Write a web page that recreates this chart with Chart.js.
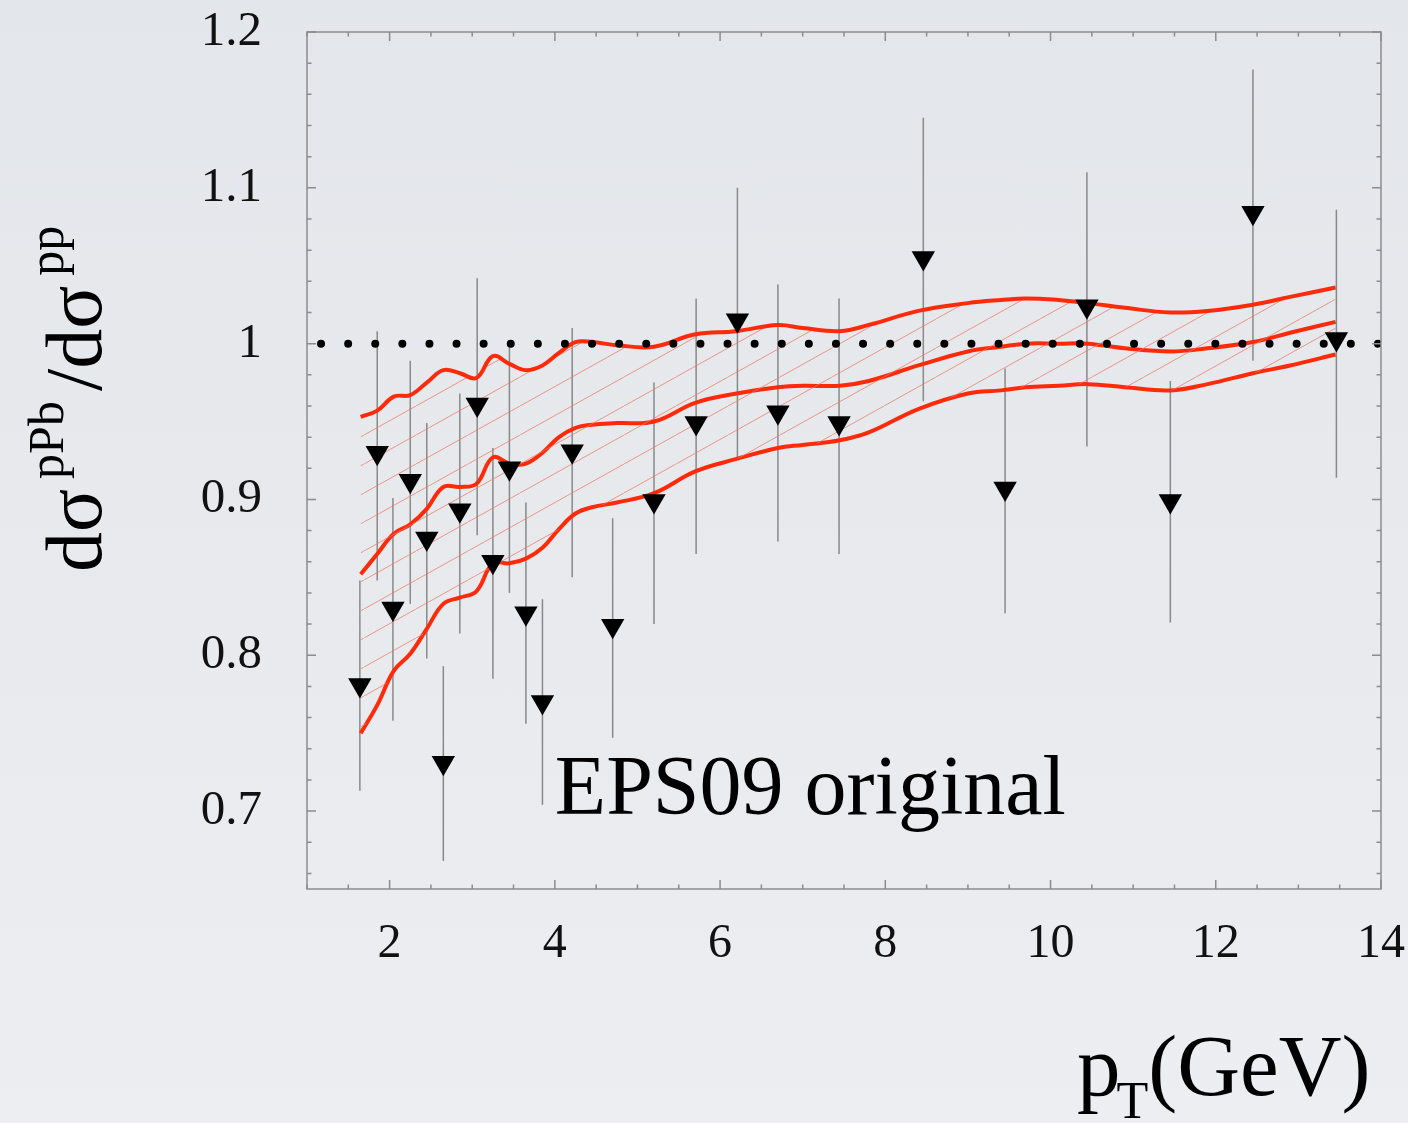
<!DOCTYPE html>
<html>
<head>
<meta charset="utf-8">
<script src="https://cdn.jsdelivr.net/npm/chart.js@4.4.0/dist/chart.umd.min.js"></script>
<style>
  html, body { margin: 0; padding: 0; }
  body { width: 1408px; height: 1123px; overflow: hidden;
         background: linear-gradient(#e3e6ea, #eceef1); }
  canvas { display: block; }
</style>
</head>
<body>
<canvas id="ratioChart" width="1408" height="1123"></canvas>
<script>
// measured points: pT, ratio and error bar ends
const ptData    = [1.64, 1.85, 2.04, 2.25, 2.45, 2.65, 2.85, 3.06, 3.25, 3.45, 3.65, 3.85, 4.21, 4.70, 5.20, 5.71, 6.21, 6.70, 7.44, 8.46, 9.45, 10.44, 11.45, 12.45, 13.46];
const ratioData = [0.781, 0.930, 0.830, 0.912, 0.875, 0.731, 0.893, 0.961, 0.860, 0.920, 0.827, 0.770, 0.931, 0.819, 0.899, 0.949, 1.015, 0.956, 0.949, 1.055, 0.907, 1.024, 0.899, 1.084, 1.003];
const ratioHigh = [0.848, 1.008, 0.901, 0.989, 0.949, 0.793, 0.968, 1.042, 0.933, 0.999, 0.898, 0.836, 1.010, 0.888, 0.975, 1.029, 1.100, 1.038, 1.029, 1.145, 0.984, 1.110, 0.976, 1.176, 1.086];
const ratioLow  = [0.713, 0.848, 0.758, 0.833, 0.798, 0.668, 0.814, 0.877, 0.785, 0.840, 0.756, 0.704, 0.850, 0.747, 0.820, 0.865, 0.926, 0.873, 0.865, 0.963, 0.827, 0.934, 0.821, 0.989, 0.914];

// EPS09 band: upper, central, lower curves
const bandPt      = [1.65, 1.85, 2.05, 2.25, 2.45, 2.65, 2.85, 3.05, 3.25, 3.45, 3.65, 3.85, 4.05, 4.25, 4.45, 4.75, 5.2, 5.7, 6.2, 6.7, 7.0, 7.45, 7.8, 8.4, 9.0, 9.4, 9.7, 10.1, 10.45, 10.9, 11.45, 11.9, 12.45, 12.9, 13.45];
const bandUpper   = [0.953, 0.957, 0.966, 0.967, 0.975, 0.983, 0.981, 0.978, 0.992, 0.987, 0.983, 0.986, 0.994, 1.001, 1.001, 0.999, 0.998, 1.006, 1.008, 1.012, 1.010, 1.008, 1.012, 1.021, 1.026, 1.028, 1.029, 1.028, 1.026, 1.023, 1.020, 1.021, 1.025, 1.030, 1.036];
const bandCentral = [0.852, 0.865, 0.878, 0.884, 0.894, 0.908, 0.908, 0.910, 0.927, 0.923, 0.923, 0.930, 0.940, 0.946, 0.948, 0.949, 0.950, 0.962, 0.968, 0.972, 0.973, 0.973, 0.976, 0.986, 0.995, 0.998, 1.000, 1.000, 1.000, 0.997, 0.995, 0.997, 1.001, 1.007, 1.014];
const bandLower   = [0.750, 0.768, 0.790, 0.801, 0.817, 0.833, 0.837, 0.841, 0.859, 0.859, 0.862, 0.869, 0.881, 0.891, 0.895, 0.898, 0.904, 0.918, 0.926, 0.933, 0.935, 0.938, 0.943, 0.958, 0.968, 0.970, 0.972, 0.973, 0.974, 0.972, 0.970, 0.974, 0.981, 0.986, 0.993];

// dotted reference line at ratio 1
const unityPt = [1.17, 14];
const unityRatio = [1, 1];

const xTicks = [2, 4, 6, 8, 10, 12, 14];
const yTicks = [0.7, 0.8, 0.9, 1, 1.1, 1.2];

const serif = '"Liberation Serif", "Times New Roman", serif';
const red = 'rgb(254, 42, 10)';

// diagonal hatch for the band
function makeHatch() {
  const c = document.createElement('canvas');
  const w = 52, h = 29;
  c.width = w; c.height = h;
  const g = c.getContext('2d');
  g.strokeStyle = 'rgba(238, 120, 100, 0.75)';
  g.lineWidth = 1;
  for (const off of [-w, 0, w]) {
    g.beginPath();
    g.moveTo(off, h);
    g.lineTo(off + w, 0);
    g.stroke();
  }
  return g.createPattern(c, 'repeat');
}

const toXY = (xs, ys) => xs.map((x, i) => ({ x: x, y: ys[i] }));

const framePlugin = {
  id: 'frame',
  beforeDatasetsDraw(chart) {
    const { ctx, scales: { x, y } } = chart;
    ctx.save();
    ctx.strokeStyle = 'rgba(120,120,120,0.85)';
    ctx.lineWidth = 1.5;
    ptData.forEach((p, i) => {
      const px = x.getPixelForValue(p);
      ctx.beginPath();
      ctx.moveTo(px, y.getPixelForValue(ratioHigh[i]));
      ctx.lineTo(px, y.getPixelForValue(ratioLow[i]));
      ctx.stroke();
    });
    ctx.restore();
  },
  afterDraw(chart) {
    const { ctx, chartArea: a, scales: { x, y } } = chart;
    ctx.save();
    ctx.strokeStyle = '#8c8c8c';
    ctx.lineWidth = 1.5;
    ctx.strokeRect(a.left, a.top, a.right - a.left, a.bottom - a.top);
    ctx.beginPath();
    for (let k = 2; k <= 28; k++) {
      const px = x.getPixelForValue(k / 2);
      const len = k % 4 === 0 ? 9 : 4.5;
      ctx.moveTo(px, a.bottom); ctx.lineTo(px, a.bottom - len);
      ctx.moveTo(px, a.top); ctx.lineTo(px, a.top + len);
    }
    for (let k = 33; k <= 60; k++) {
      const py = y.getPixelForValue(k / 50);
      const len = k % 5 === 0 ? 9 : 4.5;
      ctx.moveTo(a.left, py); ctx.lineTo(a.left + len, py);
      ctx.moveTo(a.right, py); ctx.lineTo(a.right - len, py);
    }
    ctx.stroke();

    ctx.fillStyle = '#000';
    ctx.textBaseline = 'alphabetic';
    ctx.textAlign = 'left';

    // label inside the plot
    ctx.font = '84px ' + serif;
    ctx.fillText('EPS09 original', x.getPixelForValue(4.0), y.getPixelForValue(0.698));

    // x title p_T(GeV)
    let cx = 1077;
    ctx.font = '87px ' + serif;
    ctx.fillText('p', cx, 1095);
    cx += ctx.measureText('p').width - 4;
    ctx.font = '52px ' + serif;
    ctx.fillText('T', cx, 1118);
    cx += ctx.measureText('T').width;
    ctx.font = '87px ' + serif;
    ctx.fillText('(GeV)', cx, 1095);

    // y title dσ^pPb / dσ^pp
    ctx.translate(101, 572);
    ctx.rotate(-Math.PI / 2);
    let tx = 0;
    const parts = [['d\u03c3', 80, 0, 10], ['pPb', 50, -38, 10], ['/d\u03c3', 80, 0, 10], ['pp', 50, -38, 0]];
    parts.forEach(([t, size, dy, gap]) => {
      ctx.font = size + 'px ' + serif;
      ctx.fillText(t, tx, dy);
      tx += ctx.measureText(t).width + gap;
    });
    ctx.restore();
  }
};

const ctx = document.getElementById('ratioChart');
new Chart(ctx, {
  data: {
    datasets: [
      {
        type: 'scatter',
        label: 'data',
        data: toXY(ptData, ratioData),
        pointStyle: 'triangle',
        rotation: 180,
        pointRadius: 13.5,
        pointHoverRadius: 13.5,
        backgroundColor: '#000',
        borderWidth: 0,
        order: 0
      },
      {
        type: 'line',
        label: 'unity',
        data: toXY(unityPt, unityRatio),
        borderColor: '#000',
        borderWidth: 8,
        borderDash: [0, 27.1],
        borderCapStyle: 'round',
        pointRadius: 0,
        fill: false,
        order: 1
      },
      {
        type: 'line',
        label: 'upper',
        data: toXY(bandPt, bandUpper),
        borderColor: red,
        borderWidth: 4,
        pointRadius: 0,
        tension: 0.4,
        fill: { target: 4 },
        backgroundColor: makeHatch(),
        order: 2
      },
      {
        type: 'line',
        label: 'central',
        data: toXY(bandPt, bandCentral),
        borderColor: red,
        borderWidth: 4,
        pointRadius: 0,
        tension: 0.4,
        fill: false,
        order: 3
      },
      {
        type: 'line',
        label: 'lower',
        data: toXY(bandPt, bandLower),
        borderColor: red,
        borderWidth: 4,
        pointRadius: 0,
        tension: 0.4,
        fill: false,
        order: 4
      }
    ]
  },
  options: {
    responsive: false,
    devicePixelRatio: 1,
    animation: false,
    layout: { padding: { top: 32, right: 27, left: 0, bottom: 0 } },
    plugins: { legend: { display: false }, tooltip: { enabled: false } },
    scales: {
      x: {
        type: 'linear',
        min: 1,
        max: 14,
        afterBuildTicks: s => { s.ticks = xTicks.map(v => ({ value: v })); },
        afterFit: s => { s.height = 234; s.paddingLeft = 0; s.paddingRight = 0; },
        grid: { display: false, drawTicks: false },
        border: { display: false },
        ticks: { font: { family: serif, size: 48 }, color: '#111', padding: 27, maxRotation: 0, autoSkip: false }
      },
      y: {
        type: 'linear',
        min: 0.65,
        max: 1.2,
        afterBuildTicks: s => { s.ticks = yTicks.map(v => ({ value: v })); },
        afterFit: s => { s.width = 307; s.paddingTop = 0; s.paddingBottom = 0; },
        grid: { display: false, drawTicks: false },
        border: { display: false },
        ticks: { font: { family: serif, size: 49 }, color: '#111', padding: 45, callback: v => String(v) }
      }
    }
  },
  plugins: [framePlugin]
});
</script>
</body>
</html>
